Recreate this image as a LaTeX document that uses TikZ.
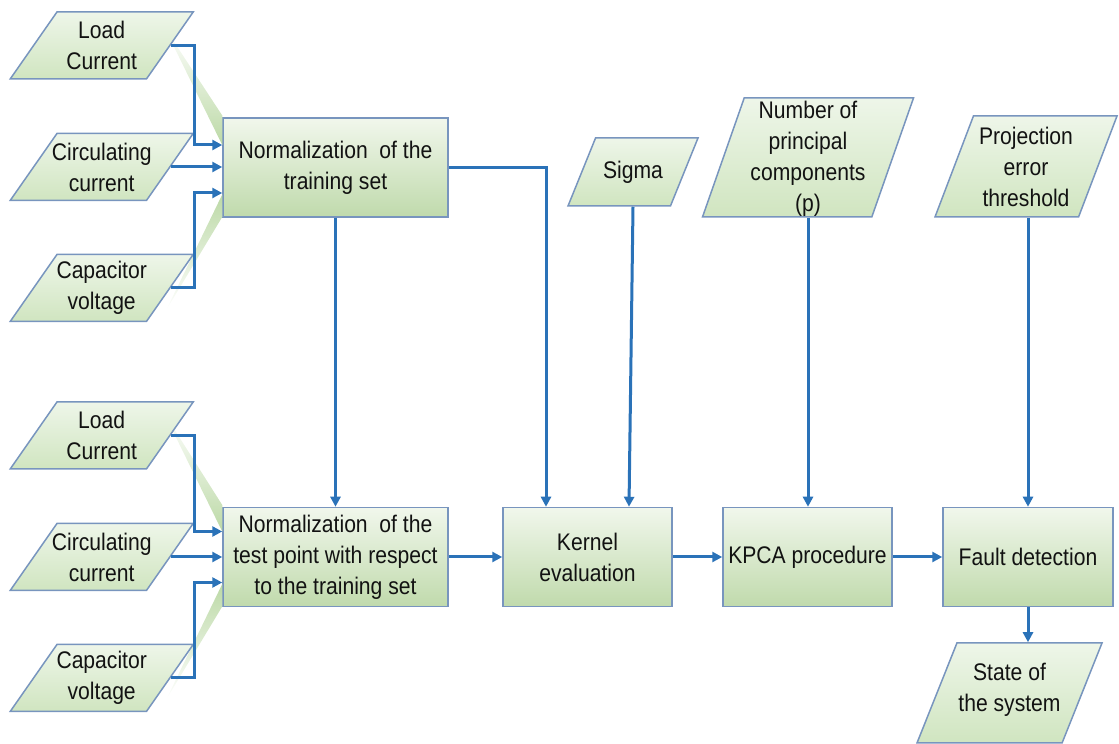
\documentclass[tikz,border=0pt]{standalone}
\usepackage{fontspec}
\setmainfont{Liberation Sans}[FakeStretch=0.88]
\usetikzlibrary{shapes.geometric,arrows.meta,calc}

\definecolor{flow}{HTML}{2A72B8}
\definecolor{edge}{HTML}{7895BE}
\definecolor{boxtop}{HTML}{F1F7EC}
\definecolor{boxbot}{HTML}{C0DAAC}
\definecolor{partop}{HTML}{EEF6E9}
\definecolor{parbot}{HTML}{D0E5C0}
\definecolor{wedge}{HTML}{BCD9A6}
\definecolor{ink}{HTML}{121212}

\newcommand{\iofill}{\phantom{\rule{2pt}{2pt}}}

\tikzset{
  lbl/.style={font=\fontsize{24}{31}\selectfont, text=ink, align=center},
  procbox/.style={lbl, draw=edge, line width=1.5pt, top color=boxtop, bottom color=boxbot,
    minimum height=99pt, inner sep=2pt},
  iobox/.style={trapezium, draw=edge, line width=1.5pt, top color=partop, bottom color=parbot,
    trapezium stretches=true, inner sep=0pt},
  iotext/.style={lbl, inner sep=0pt},
  conn/.style={draw=flow, line width=3pt, -{Triangle[length=10pt,width=10pt]}},
}

\begin{document}
\begin{tikzpicture}[x=1pt,y=1pt]
\useasboundingbox (0,0) rectangle (1119,744);

% processing blocks
\node[procbox, minimum width=225pt] (n1) at (335.5,576.5) {Normalization\ \ of the\\training set};
\node[procbox, minimum width=225pt] (n2) at (335.5,187) {Normalization\ \ of the\\test point with respect\\to the training set};
\node[procbox, minimum width=169pt] (kern) at (587.5,187) {Kernel\\evaluation};
\node[procbox, minimum width=169pt] (kpca) at (807.5,187) {KPCA procedure};
\node[procbox, minimum width=170pt] (fault) at (1028,187) {Fault detection};

% soft green wedges between the input blocks and the normalization blocks
\shade[top color=white, bottom color=wedge]
  ($(n1.west)+(-58,140.5)$) -- ($(n1.west)+(0,22.5)$) -- ($(n1.west)+(0,52)$) -- cycle;
\shade[top color=wedge, bottom color=white]
  ($(n1.west)+(0,-27)$) -- ($(n1.west)+(0,-49.5)$) -- ($(n1.west)+(-56,-142.5)$) -- cycle;
\shade[top color=white, bottom color=wedge]
  ($(n2.west)+(-58,143.5)$) -- ($(n2.west)+(0,25.5)$) -- ($(n2.west)+(0,52)$) -- cycle;
\shade[top color=wedge, bottom color=white]
  ($(n2.west)+(0,-27)$) -- ($(n2.west)+(0,-49.5)$) -- ($(n2.west)+(-56,-142.5)$) -- cycle;

% input / output parallelograms
\foreach \nm/\yy in {lc1/698.5, cc1/577, cv1/456, lc2/308.5, cc2/187, cv2/66}{
  \node[iobox, trapezium left angle=62.4, trapezium right angle=117.6,
        minimum width=183pt, minimum height=67pt] (\nm) at (101.7,\yy) {\iofill};
}
\node[iotext] (lc1t) at (lc1) {Load\\Current};
\node[iotext] (cc1t) at (cc1) {Circulating\\current};
\node[iotext] (cv1t) at (cv1) {Capacitor\\voltage};
\node[iotext] (lc2t) at (lc2) {Load\\Current};
\node[iotext] (cc2t) at (cc2) {Circulating\\current};
\node[iotext] (cv2t) at (cv2) {Capacitor\\voltage};

\node[iobox, trapezium left angle=69.8, trapezium right angle=110.2,
      minimum width=130pt, minimum height=68pt] (sig) at (633,572) {\iofill};
\node[iotext] (sigt) at (sig) {Sigma};

\node[iobox, trapezium left angle=71.9, trapezium right angle=108.1,
      minimum width=211pt, minimum height=119pt] (npc) at (808,586.5) {\iofill};
\node[iotext] (npct) at ($(npc)+(0,-1.5)$) {Number of\\principal\\components\\(p)};

\node[iobox, trapezium left angle=69.9, trapezium right angle=110.1,
      minimum width=182pt, minimum height=101pt] (proj) at (1026,577.5) {\iofill};
\node[iotext] (projt) at (proj) {Projection\\error\\threshold};

\node[iobox, trapezium left angle=69.2, trapezium right angle=110.8,
      minimum width=185pt, minimum height=100pt] (state) at (1009.5,51) {\iofill};
\node[iotext] (statet) at ($(state)+(0,3)$) {State of\\the system};

% inputs to the training normalization
\draw[conn] (lc1.east) -- ++(24,0) |- ($(n1.west)+(0,22.5)$);
\draw[conn] (cc1.east) -- (cc1.east -| n1.west);
\draw[conn] (cv1.east) -- ++(24,0) |- ($(n1.west)+(0,-25.5)$);

% inputs to the test point normalization
\draw[conn] (lc2.east) -- ++(24,0) |- ($(n2.west)+(0,25.5)$);
\draw[conn] (cc2.east) -- (cc2.east -| n2.west);
\draw[conn] (cv2.east) -- ++(24,0) |- ($(n2.west)+(0,-25.5)$);

% main flow
\draw[conn] (n1.south) -- (n2.north);
\draw[conn] (n1.east) -| ($(kern.north)+(-41.5,0)$);
\draw[conn] (sig.south) -- ($(kern.north)+(41.5,0)$);
\draw[conn] (npc.south) -- (npc.south |- kpca.north);
\draw[conn] (fault.north |- proj.south) -- (fault.north);
\draw[conn] (n2.east) -- (kern.west);
\draw[conn] (kern.east) -- (kpca.west);
\draw[conn] (kpca.east) -- (fault.west);
\draw[conn] (fault.south) -- (fault.south |- state.north);

\end{tikzpicture}
\end{document}
